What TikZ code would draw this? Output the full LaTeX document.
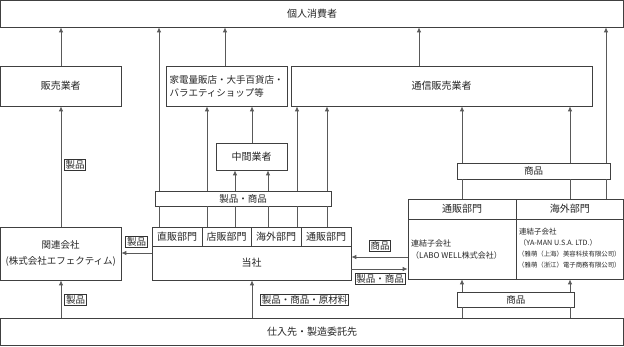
\documentclass[tikz,border=0pt]{standalone}
\usepackage{fontspec}
\setmainfont{Noto Sans CJK JP}
\usetikzlibrary{arrows.meta}
\begin{document}
\begin{tikzpicture}[x=1pt,y=-1pt,
  box/.style={draw=black!75, line width=0.7pt, fill=white, inner sep=0pt, text=black!85, font=\fontsize{10}{12}\selectfont},
  band/.style={box, font=\fontsize{9.5}{11}\selectfont},
  lbl/.style={draw=black!80, line width=0.75pt, fill=white, inner sep=1.3pt, text=black!85, font=\fontsize{9.5}{11}\selectfont},
  txt/.style={inner sep=0pt, anchor=west, text=black!85},
  arr/.style={draw=black!65, line width=0.8pt, -{Latex[length=5pt,width=4.5pt]}},
  ln/.style={draw=black!65, line width=0.8pt}]
\useasboundingbox (0,0) rectangle (624,346);
% boxes
\node[box, minimum width=623pt, minimum height=26.5pt] (top) at (312,13.75) {個人消費者};
\node[box, minimum width=120.5pt, minimum height=40pt] (hanbai) at (60.75,86) {販売業者};
\node[box, minimum width=121pt, minimum height=40pt, align=left, font=\fontsize{9.5}{13}\selectfont] (kaden) at (226.5,86) {家電量販店・大手百貨店・\\バラエティショップ等};
\node[box, minimum width=301pt, minimum height=40pt] (tsushin) at (441.5,86) {通信販売業者};
\node[box, minimum width=71pt, minimum height=27pt] (chukan) at (251.5,156.5) {中間業者};
\node[band, minimum width=176pt, minimum height=15pt] (band1) at (243,198.5) {製品・商品};
\node[band, minimum width=153pt, minimum height=16pt] (band2) at (533.5,171) {商品};
\node[box, minimum width=50pt, minimum height=19pt] (d1) at (177,236.5) {直販部門};
\node[box, minimum width=49pt, minimum height=19pt] (d2) at (226.5,236.5) {店販部門};
\node[box, minimum width=50pt, minimum height=19pt] (d3) at (276,236.5) {海外部門};
\node[box, minimum width=50pt, minimum height=19pt] (d4) at (326,236.5) {通販部門};
\node[box, minimum width=199pt, minimum height=34pt] (tosha) at (251.5,263) {当社};
\node[box, minimum width=120.5pt, minimum height=53pt, align=center, font=\fontsize{9.5}{16}\selectfont] (kanren) at (60.75,253.5) {関連会社\\(株式会社エフェクティム)};
\node[box, minimum width=108pt, minimum height=20pt] (rh1) at (462,209) {通販部門};
\node[box, minimum width=107.5pt, minimum height=20pt] (rh2) at (569.75,209) {海外部門};
\node[box, minimum width=108pt, minimum height=60pt] (rl1) at (462,249) {};
\node[box, minimum width=107.5pt, minimum height=60pt] (rl2) at (569.75,249) {};
\node[box, minimum width=623pt, minimum height=27.5pt] (bottom) at (312,331.75) {仕入先・製造委託先};
\node[band, minimum width=116.5pt, minimum height=15pt] (band3) at (515.75,299.5) {商品};
% texts in right box
\node[txt, font=\fontsize{8}{9}\selectfont] (lw1) at (411,243) {連結子会社};
\node[txt, font=\fontsize{8}{9}\selectfont] (lw2) at (411,255) {（LABO WELL株式会社）};
\node[txt, font=\fontsize{7.5}{9}\selectfont] (ym1) at (519,231.5) {連結子会社};
\node[txt, font=\fontsize{7.2}{9}\selectfont] (ym2) at (519,242.5) {（YA-MAN U.S.A. LTD.）};
\node[txt, font=\fontsize{6.4}{8}\selectfont] (ym3) at (518,254) {（雅萌（上海）美容科技有限公司）};
\node[txt, font=\fontsize{6.4}{8}\selectfont] (ym4) at (518,265) {（雅萌（浙江）電子商務有限公司）};
% lanes
\foreach \n/\x in {La/61,Lb/159,Lc/207,Ld/225,Le/235,Lf/252,Lg/268,Lh/297,Li/327,Lj/419,Lk/462,Ll/570,Lm/606}
  \coordinate (\n) at (\x,0);
\coordinate (Ya) at (0,253);
\coordinate (Yb) at (0,257);
\coordinate (Yc) at (0,269);
% left column
\draw[arr] (hanbai.north -| La) -- (top.south -| La);
\draw[arr] (kanren.north -| La) -- (hanbai.south -| La);
\draw[arr] (bottom.north -| La) -- (kanren.south -| La);
% kaden / tsushin to top
\draw[arr] (kaden.north -| Ld) -- (top.south -| Ld);
\draw[arr] (tsushin.north -| Lj) -- (top.south -| Lj);
% departments through band1
\draw[ln] (d1.north -| Lb) -- (band1.south -| Lb);
\draw[arr] (band1.north -| Lb) -- (top.south -| Lb);
\draw[ln] (d2.north -| Lc) -- (band1.south -| Lc);
\draw[arr] (band1.north -| Lc) -- (kaden.south -| Lc);
\draw[ln] (d2.north -| Le) -- (band1.south -| Le);
\draw[arr] (band1.north -| Le) -- (chukan.south -| Le);
\draw[ln] (d3.north -| Lg) -- (band1.south -| Lg);
\draw[arr] (band1.north -| Lg) -- (chukan.south -| Lg);
\draw[ln] (d3.north -| Lh) -- (band1.south -| Lh);
\draw[arr] (band1.north -| Lh) -- (tsushin.south -| Lh);
\draw[ln] (d4.north -| Li) -- (band1.south -| Li);
\draw[arr] (band1.north -| Li) -- (tsushin.south -| Li);
\draw[arr] (chukan.north -| Lf) -- (kaden.south -| Lf);
% right box through band2
\draw[ln] (rh1.north -| Lk) -- (band2.south -| Lk);
\draw[arr] (band2.north -| Lk) -- (tsushin.south -| Lk);
\draw[ln] (rh2.north -| Ll) -- (band2.south -| Ll);
\draw[arr] (band2.north -| Ll) -- (tsushin.south -| Ll);
\draw[ln] (rh2.north -| Lm) -- (band2.south -| Lm);
\draw[arr] (band2.north -| Lm) -- (top.south -| Lm);
% bottom to right box through band3
\draw[ln] (bottom.north -| Lk) -- (band3.south -| Lk);
\draw[arr] (band3.north -| Lk) -- (rl1.south -| Lk);
\draw[ln] (bottom.north -| Ll) -- (band3.south -| Ll);
\draw[arr] (band3.north -| Ll) -- (rl2.south -| Ll);
% bottom to tosha
\draw[arr] (bottom.north -| Lf) -- (tosha.south -| Lf);
% horizontal
\draw[arr] (tosha.west |- Ya) -- (kanren.east |- Ya);
\draw[arr] (rl1.west |- Yb) -- (tosha.east |- Yb);
\draw[arr] (tosha.east |- Yc) -- (rl1.west |- Yc);
% labels
\node[lbl] (l1) at (75,165) {製品};
\node[lbl] (l2) at (136.5,242) {製品};
\node[lbl] (l3) at (75.5,300) {製品};
\node[lbl] (l4) at (304.5,300) {製品・商品・原材料};
\node[lbl] (l5) at (380,246) {商品};
\node[lbl] (l6) at (380,279) {製品・商品};
\end{tikzpicture}
\end{document}
